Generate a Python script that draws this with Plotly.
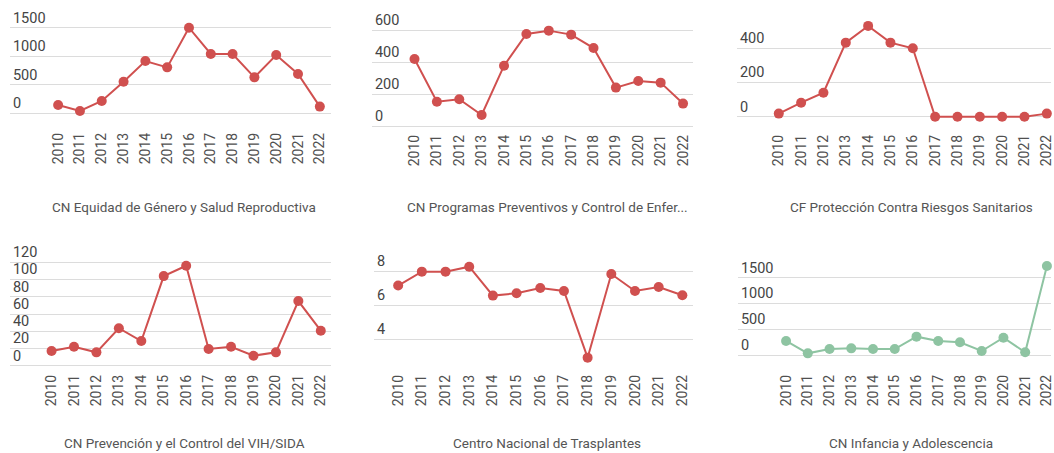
import plotly.graph_objects as go

W, H = 1054, 453

years = list(range(2010, 2023))
year_labels = [str(y) for y in years]

titles = [
    "CN Equidad de Género y Salud Reproductiva",
    "CN Programas Preventivos y Control de Enfer...",
    "CF Protección Contra Riesgos Sanitarios",
    "CN Prevención y el Control del VIH/SIDA",
    "Centro Nacional de Trasplantes",
    "CN Infancia y Adolescencia",
]

equidad = [146, 41, 216, 554, 916, 805, 1500, 1039, 1039, 630, 1021, 689, 117]
preventivos = [419, 152, 167, 69, 377, 575, 596, 571, 487, 240, 281, 271, 140]
riesgos = [18, 82, 140, 433, 531, 433, 400, 0, 0, 0, 0, 0, 18]
vih = [17, 22, 15.5, 43.5, 28.6, 104, 116, 19.4, 22, 11.6, 15.5, 75, 40.6]
trasplantes = [7.16, 7.98, 7.98, 8.27, 6.57, 6.71, 7.02, 6.84, 2.92, 7.84, 6.84, 7.08, 6.59]
infancia = [272, 32, 116, 129, 116, 116, 356, 272, 246, 78, 336, 52, 1726]

series = [equidad, preventivos, riesgos, vih, trasplantes, infancia]

yticks = [
    [0, 500, 1000, 1500],
    [0, 200, 400, 600],
    [0, 200, 400],
    [0, 20, 40, 60, 80, 100, 120],
    [4, 6, 8],
    [0, 500, 1000, 1500],
]

RED = "#d0504f"
GREEN = "#8ec4a2"
colors = [RED, RED, RED, RED, RED, GREEN]

# layout (pixels): grid left/right, x of first year, step, two y refs (value, px), domain top/bottom, title center x/y
panels = [
    dict(l=10, r=332, x0=58.3, st=21.87, ya=(0, 113.3), yb=(1500, 27.7), t=4, b=129, tx=185, ty=207),
    dict(l=373, r=695, x0=415.7, st=22.44, ya=(0, 126), yb=(600, 30), t=4, b=131, tx=549, ty=207),
    dict(l=739, r=1054, x0=781, st=22.4, ya=(0, 116.7), yb=(400, 48.3), t=4, b=131, tx=914, ty=207),
    dict(l=10, r=332, x0=51.7, st=22.5, ya=(0, 365.7), yb=(120, 262.3), t=240, b=371, tx=185, ty=443),
    dict(l=375, r=695, x0=399.3, st=23.75, ya=(4, 339.3), yb=(8, 271.3), t=240, b=371, tx=549, ty=443),
    dict(l=740, r=1054, x0=788.3, st=21.8, ya=(0, 355), yb=(1500, 277.7), t=240, b=371, tx=914, ty=443),
]

fig = go.Figure()
annotations = []
for i, p in enumerate(panels):
    n = "" if i == 0 else str(i + 1)
    xa, ya = "x" + n, "y" + n
    fig.add_trace(go.Scatter(
        x=years, y=series[i], xaxis=xa, yaxis=ya, mode="lines+markers",
        line=dict(color=colors[i], width=2),
        marker=dict(color=colors[i], size=10),
        showlegend=False, hoverinfo="x+y", cliponaxis=False,
    ))
    xmin = years[0] - (p["x0"] - p["l"]) / p["st"]
    xmax = years[0] + (p["r"] - p["x0"]) / p["st"]
    (va, pa), (vb, pb) = p["ya"], p["yb"]
    k = (pa - pb) / (vb - va)  # px per unit
    ytop = va + (pa - p["t"]) / k
    ybot = va - (p["b"] - pa) / k
    fig.layout["xaxis" + n] = dict(
        domain=[p["l"] / W, p["r"] / W], range=[xmin, xmax], anchor=ya,
        tickmode="array", tickvals=years, ticktext=year_labels, tickangle=-90,
        ticklabeloverflow="allow",
        showgrid=False, zeroline=False, showline=False, ticks="",
        tickfont=dict(family="Roboto", size=14, color="#505050"),
        fixedrange=True,
    )
    fig.layout["yaxis" + n] = dict(
        domain=[1 - p["b"] / H, 1 - p["t"] / H], range=[ybot, ytop], anchor=xa,
        tickmode="array", tickvals=yticks[i], ticklabelposition="inside top",
        ticklabeloverflow="allow",
        showgrid=True, gridcolor="#dcdcdc", gridwidth=1.3, zeroline=False,
        showline=False, ticks="",
        tickfont=dict(family="Roboto", size=14.5, color="#444444"),
        fixedrange=True,
    )
    annotations.append(dict(
        text=titles[i], x=p["tx"] / W, y=1 - p["ty"] / H, xref="paper", yref="paper",
        xanchor="center", yanchor="middle", showarrow=False,
        font=dict(family="Roboto", size=13.5, color="#555555"),
    ))

fig.update_layout(
    width=W, height=H, margin=dict(l=0, r=0, t=0, b=0),
    paper_bgcolor="white", plot_bgcolor="white",
    annotations=annotations,
)

fig.write_html(
    "out.html",
    config={"displayModeBar": False},
    post_script="document.body.style.margin='0';document.body.style.overflow='hidden';",
)
